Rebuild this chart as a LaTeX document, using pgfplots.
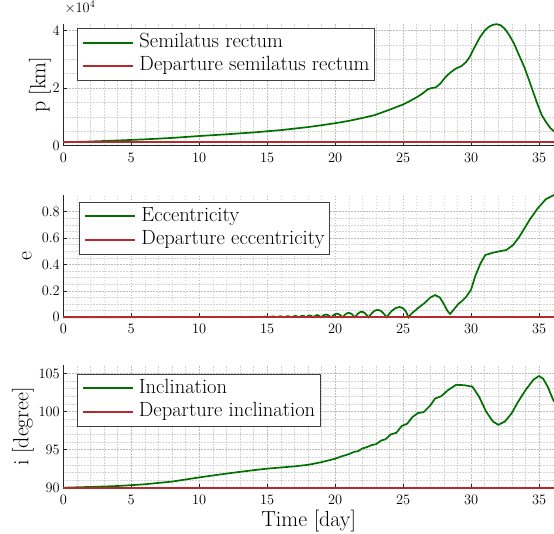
\documentclass[border=0pt]{standalone}
\usepackage{graphicx}
\usepackage{pgfplots}
\pgfplotsset{compat=1.18}
\definecolor{dgreen}{RGB}{0,112,0}
\definecolor{dred}{RGB}{180,42,46}
\newcommand{\lbl}[1]{\scalebox{1.265}{#1}}
\newcommand{\lgd}[1]{\scalebox{1.19}{#1}}
\pgfplotsset{
 myaxis/.style={
  scale only axis, width=490.7pt,
  xmin=0, xmax=36.1,
  xtick={0,5,...,35}, minor x tick num=4,
  axis x line*=bottom, axis y line*=left,
  axis line style={-, solid, draw=black!85, line width=0.7pt},
  tick align=inside, major tick length=4pt, minor tick length=0pt,
  tick style={solid, draw=black!85, line width=0.7pt},
  grid=both,
  major grid style={draw=black!26, dash pattern=on 1.5pt off 1.5pt, line width=0.5pt},
  minor grid style={draw=black!17, dash pattern=on 1.5pt off 1.5pt, line width=0.5pt},
  tick label style={font=\fontsize{14.4}{16}\selectfont},
  xticklabel style={anchor=base, yshift=-16.5pt},
  label style={font=\fontsize{17.28}{20}\selectfont},
  clip=false,
  legend cell align=left,
  legend image code/.code={\draw[##1, solid, line width=2pt] (0pt,0pt) -- (50pt,0pt);},
  legend style={font=\fontsize{17.28}{20}\selectfont, anchor=north west, draw=black!75, solid,
    inner xsep=5pt, inner ysep=2.5pt, column sep=5pt, row sep=0pt,
    nodes={inner xsep=0pt, inner ysep=2pt, text height=14.6pt, text depth=4.8pt}},
 },
}
\begin{document}
\begin{tikzpicture}
\useasboundingbox (0,0) rectangle (554pt,534pt);
% ---------- semilatus rectum
\begin{axis}[myaxis, at={(63.3pt,388.3pt)}, anchor=south west, height=121.7pt,
  ymin=0, ymax=42200, ytick={0,20000,40000}, yticklabels={0,2,4}, minor y tick num=3,
  scaled y ticks=false,
  title={$\times 10^{4}$},
  title style={at={(rel axis cs:0,1)}, anchor=base west, xshift=1pt, yshift=5pt, inner sep=0pt, font=\fontsize{14.4}{16}\selectfont},
  ylabel={\lbl{p [km]}}, ylabel style={at={(axis description cs:-0.0475,0.5)}, anchor=center},
  legend style={at={(axis description cs:0.0285,0.965)}}]
\addplot[color=dgreen, solid, line width=1.7pt] coordinates {
(0,1180) (2,1450) (4,1800) (6,2200) (8,2700) (10,3350) (12,3950) (14,4600) (16,5400)
(18,6450) (19,7100) (20,7800) (21,8600) (22,9600) (22.9,10600) (23.9,12300) (25,14300)
(25.5,15500) (26,16800) (26.4,18000) (26.8,19500) (27.1,20000) (27.4,20200) (27.75,21600)
(28.1,23700) (28.45,25300) (28.9,26800) (29.3,27600) (29.65,29100) (29.9,30800) (30.15,33200)
(30.65,37600) (31.0,39900) (31.3,41200) (31.6,41900) (31.9,42150) (32.2,41700) (32.5,40400)
(32.8,38400) (33.15,35500) (33.5,31700) (33.9,27400) (34.25,22900) (34.6,18200) (34.9,14200)
(35.2,10600) (35.5,8300) (35.85,6000) (36.1,5000)
};
\addlegendentry{\lgd{Semilatus rectum}}
\addplot[color=dred, solid, line width=1.7pt] coordinates {(0,1180) (36.1,1180)};
\addlegendentry{\lgd{Departure semilatus rectum}}
\end{axis}
% ---------- eccentricity
\begin{axis}[myaxis, at={(63.3pt,216.7pt)}, anchor=south west, height=122.3pt,
  ymin=0, ymax=0.926, ytick={0,0.2,0.4,0.6,0.8}, minor y tick num=3,
  yticklabel style={/pgf/number format/fixed, /pgf/number format/precision=1},
  ylabel={\lbl{e}}, ylabel style={at={(axis description cs:-0.074,0.5)}, anchor=center},
  legend style={at={(axis description cs:0.0326,0.945)}}]
\addplot[color=dgreen, solid, line width=1.7pt] coordinates {
(0,0.000) (5,0.001) (10,0.002) (12,0.0025) (13.5,0.0015)
(13.78,0.004) (14.05,0.001) (14.33,0.005) (14.6,0.001) (14.88,0.006) (15.15,0.001)
(15.43,0.007) (15.7,0.001) (15.98,0.008) (16.25,0.001) (16.53,0.009) (16.8,0.0)
(16.94,0.007) (17.075,0.010) (17.21,0.007) (17.35,0.0)
(17.475,0.0085) (17.6,0.012) (17.725,0.0085) (17.85,0.0)
(17.99,0.010) (18.125,0.014) (18.26,0.010) (18.4,0.0)
(18.54,0.012) (18.675,0.017) (18.81,0.012) (18.95,0.0)
(19.14,0.015) (19.325,0.021) (19.51,0.015) (19.7,0.0)
(19.81,0.010) (19.91,0.019) (20.02,0.025) (20.125,0.027) (20.23,0.025) (20.34,0.019) (20.44,0.010) (20.55,0.0)
(20.66,0.013) (20.775,0.024) (20.89,0.031) (21.0,0.034) (21.11,0.031) (21.225,0.024) (21.34,0.013) (21.45,0.0)
(21.575,0.016) (21.7,0.030) (21.825,0.039) (21.95,0.042) (22.075,0.039) (22.2,0.030) (22.325,0.016) (22.45,0.0)
(22.62,0.021) (22.79,0.040) (22.96,0.052) (23.13,0.056) (23.3,0.052) (23.46,0.040) (23.63,0.021) (23.8,0.0)
(24.0,0.030) (24.2,0.052) (24.45,0.070) (24.75,0.078) (25.0,0.068) (25.2,0.045) (25.4,0.0)
(25.55,0.020) (25.75,0.040) (26.1,0.070) (26.6,0.110) (27.0,0.150) (27.35,0.168) (27.7,0.150)
(28.0,0.100) (28.25,0.050) (28.45,0.025) (28.7,0.055) (29.05,0.100) (29.35,0.125) (29.65,0.156)
(30.0,0.210) (30.3,0.310) (30.7,0.410) (31.05,0.472) (31.65,0.490) (32.6,0.510) (33.1,0.548)
(33.55,0.610) (34.3,0.737) (34.9,0.825) (35.5,0.894) (36.1,0.926)
};
\addlegendentry{\lgd{Eccentricity}}
\addplot[color=dred, solid, line width=1.7pt] coordinates {(0,0) (36.1,0)};
\addlegendentry{\lgd{Departure eccentricity}}
\end{axis}
% ---------- inclination
\begin{axis}[myaxis, at={(63.3pt,46.3pt)}, anchor=south west, height=122.7pt,
  ymin=90, ymax=106.1, ytick={90,95,100,105}, minor y tick num=4,
  ylabel={\lbl{i [degree]}}, ylabel style={at={(axis description cs:-0.0821,0.5)}, anchor=center},
  xlabel={\lbl{Time [day]}}, xlabel style={at={(axis description cs:0.5,-0.318)}, anchor=base},
  legend style={at={(axis description cs:0.0273,0.927)}}]
\addplot[color=dgreen, solid, line width=1.7pt] coordinates {
(0,90.0) (2,90.1) (4,90.22) (5,90.33) (6,90.45) (8,90.8) (10,91.35) (12,91.85) (14,92.3)
(15,92.5) (16,92.65) (17,92.8) (18,93.0) (19,93.35) (20,93.8) (20.4,94.07) (21,94.4)
(21.4,94.7) (21.7,94.8) (22.0,95.15) (22.3,95.3) (22.7,95.6) (23.0,95.7) (23.4,96.2)
(23.7,96.35) (24.1,97.0) (24.5,97.2) (24.9,98.1) (25.3,98.4) (25.7,99.3) (26.1,99.8)
(26.5,99.9) (27.0,100.8) (27.35,101.7) (27.8,102.0) (28.3,102.8) (28.9,103.5) (29.5,103.45)
(30.1,103.25) (30.6,101.9) (31.1,100.0) (31.6,98.7) (32.0,98.25) (32.5,98.7) (33.0,99.8)
(33.4,101.1) (34.0,102.8) (34.6,104.2) (35.0,104.65) (35.3,104.3) (35.65,103.2) (35.95,101.9) (36.1,101.3)
};
\addlegendentry{\lgd{Inclination}}
\addplot[color=dred, solid, line width=1.7pt] coordinates {(0,90) (36.1,90)};
\addlegendentry{\lgd{Departure inclination}}
\end{axis}
\end{tikzpicture}
\end{document}
